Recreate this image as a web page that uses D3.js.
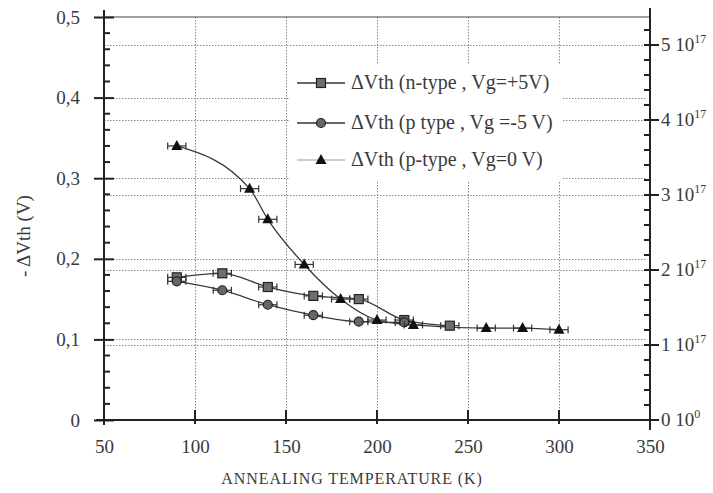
<!DOCTYPE html>
<html><head><meta charset="utf-8">
<script src="https://cdn.jsdelivr.net/npm/d3@7"></script>
<style>
body{margin:0;background:#fff;}
svg text{font-family:"Liberation Serif","Times New Roman","DejaVu Serif",serif !important;}
</style></head>
<body><svg id="c" width="713" height="493"></svg>
<script>
// ---- data ----
const seriesNames = ["\u0394Vth (n-type , Vg=+5V)", "\u0394Vth (p type , Vg =-5 V)", "\u0394Vth (p-type , Vg=0 V)"];
const tempN = [90, 115, 140, 165, 190, 215, 240];
const valN  = [0.177, 0.182, 0.165, 0.154, 0.150, 0.124, 0.117];
const tempPm = [90, 115, 140, 165, 190, 215];
const valPm  = [0.172, 0.161, 0.143, 0.130, 0.122, 0.121];
const tempP0 = [90, 130, 140, 160, 180, 200, 220, 260, 280, 300];
const valP0  = [0.340, 0.287, 0.249, 0.193, 0.150, 0.124, 0.118, 0.114, 0.114, 0.112];
const tempErr = 5; // K, horizontal error bar half-width
const xTicks = [50, 100, 150, 200, 250, 300, 350];
const yTicks = [0, 0.1, 0.2, 0.3, 0.4, 0.5];
const yRightTicks = [0, 1, 2, 3, 4, 5]; // x 10^17
const xLabel = "ANNEALING TEMPERATURE (K)";
const yLabel = "- \u0394Vth (V)";

// ---- scales ----
const svg = d3.select("#c");
const x = d3.scaleLinear().domain([50, 350]).range([104, 650]);
const y = d3.scaleLinear().domain([0, 0.5]).range([420, 17]);
const yR = d3.scaleLinear().domain([0, 5]).range([420, 45]);
const ink = "#222";
const txt = "#3a3a3a";

// ---- grid ----
const grid = svg.append("g").attr("stroke", "#8a8a8a").attr("stroke-width", 1).attr("stroke-dasharray", "1.5,1.5");
grid.selectAll(".gv").data(xTicks.slice(1, -1)).join("line")
  .attr("x1", d => x(d) + 0.5).attr("x2", d => x(d) + 0.5).attr("y1", y(0.5)).attr("y2", y(0));
grid.selectAll(".gh").data(yTicks.slice(1, -1)).join("line")
  .attr("x1", x(50)).attr("x2", x(350) - 4).attr("y1", d => Math.round(y(d)) + 0.5).attr("y2", d => Math.round(y(d)) + 0.5);
grid.selectAll(".gr").data(yRightTicks.slice(1)).join("line")
  .attr("x1", x(50)).attr("x2", x(350) - 6).attr("y1", d => Math.round(yR(d)) + 0.5).attr("y2", d => Math.round(yR(d)) + 0.5);

// ---- frame / axes ----
svg.append("line").attr("x1", x(50)).attr("x2", x(350)).attr("y1", y(0.5)).attr("y2", y(0.5))
  .attr("stroke", "#444").attr("stroke-width", 1.2);

const fmt = d => d === 0 ? "0" : d3.format(".1f")(d).replace(".", ",");
// left axis
const yMinor = d3.range(0, 0.501, 0.02);
const gl = svg.append("g").attr("transform", `translate(${x(50)},0)`);
gl.call(d3.axisLeft(y).tickValues(yTicks).tickFormat(fmt).tickSize(10).tickPadding(14));
gl.attr("font-family", null);
gl.call(g => g.select(".domain").remove());
gl.selectAll(".tick line").attr("stroke", ink).attr("stroke-width", 2).attr("x2", -10).attr("x1", 10);
gl.selectAll(".tick text").attr("font-size", 19).attr("fill", txt);
gl.append("line").attr("y1", 10).attr("y2", 425).attr("stroke", ink).attr("stroke-width", 2);
gl.selectAll(".ym").data(yMinor.filter(v => !yTicks.some(t => Math.abs(t - v) < 1e-6))).join("line")
  .attr("x1", 0).attr("x2", 6).attr("y1", d => y(d)).attr("y2", d => y(d)).attr("stroke", ink).attr("stroke-width", 2);

// bottom axis
const gb = svg.append("g").attr("transform", `translate(0,${y(0)})`);
gb.call(d3.axisBottom(x).tickValues(xTicks).tickSize(0).tickPadding(20));
gb.attr("font-family", null);
gb.call(g => g.select(".domain").remove());
gb.selectAll(".tick text").attr("font-size", 19).attr("fill", txt);
gb.append("line").attr("x1", x(50) - 8).attr("x2", x(350)).attr("stroke", ink).attr("stroke-width", 2);
gb.selectAll(".xm").data(xTicks).join("line")
  .attr("x1", d => x(d)).attr("x2", d => x(d)).attr("y1", -10).attr("y2", 4).attr("stroke", ink).attr("stroke-width", 2);

// right axis
const rMinor = d3.range(0, 5.21, 0.2).filter(v => !yRightTicks.some(t => Math.abs(t - v) < 1e-6));
const gr = svg.append("g").attr("transform", `translate(${x(350)},0)`);
gr.append("line").attr("y1", 8).attr("y2", 430).attr("stroke", ink).attr("stroke-width", 2);
gr.selectAll(".rm").data(rMinor).join("line")
  .attr("x1", -6).attr("x2", 0).attr("y1", d => yR(d)).attr("y2", d => yR(d)).attr("stroke", ink).attr("stroke-width", 2);
gr.selectAll(".rM").data(yRightTicks).join("line")
  .attr("x1", -6).attr("x2", 9).attr("y1", d => yR(d)).attr("y2", d => yR(d)).attr("stroke", ink).attr("stroke-width", 2);
const rt = gr.selectAll(".rt").data(yRightTicks).join("text")
  .attr("x", 11).attr("y", d => yR(d) + 6).attr("font-size", 19).attr("fill", txt);
rt.append("tspan").text(d => d + " 10");
rt.append("tspan").attr("font-size", 12).attr("dy", -8).text(d => d === 0 ? "0" : "17");

// axis titles
svg.append("text").attr("x", 352).attr("y", 484).attr("text-anchor", "middle")
  .attr("font-size", 16).attr("letter-spacing", 0.9).attr("fill", txt).text(xLabel);
svg.append("text").attr("transform", "translate(30,236) rotate(-90)").attr("text-anchor", "middle")
  .attr("font-size", 19).attr("fill", txt).text(yLabel);

// ---- data marks ----
const series = [
  {t: tempN, v: valN, shape: "square"},
  {t: tempPm, v: valPm, shape: "circle"},
  {t: tempP0, v: valP0, shape: "triangle"}
];
const line = d3.line().x(d => x(d[0])).y(d => y(d[1])).curve(d3.curveMonotoneX);
const marks = svg.append("g");
series.forEach(s => {
  const pts = s.t.map((t, i) => [t, s.v[i]]);
  marks.append("path").datum(pts).attr("d", line).attr("fill", "none")
    .attr("stroke", "#3a3a3a").attr("stroke-width", 1.3);
});
function drawMarker(g, shape, cx, cy) {
  if (shape === "square") {
    g.append("rect").attr("x", cx - 4.5).attr("y", cy - 4.5).attr("width", 9).attr("height", 9)
      .attr("fill", "#6e6e6e").attr("stroke", "#222").attr("stroke-width", 1.2);
  } else if (shape === "circle") {
    g.append("circle").attr("cx", cx).attr("cy", cy).attr("r", 4.5)
      .attr("fill", "#666").attr("stroke", "#222").attr("stroke-width", 1.2);
  } else {
    g.append("path").attr("d", `M${cx},${cy - 6}L${cx + 5.5},${cy + 4}L${cx - 5.5},${cy + 4}Z`)
      .attr("fill", "#111");
  }
}
series.forEach(s => {
  s.t.forEach((t, i) => {
    const cx = x(t), cy = y(s.v[i]);
    const x0 = x(t - tempErr), x1 = x(t + tempErr);
    const eb = marks.append("g").attr("stroke", "#333").attr("stroke-width", 1.2);
    eb.append("line").attr("x1", x0).attr("x2", x1).attr("y1", cy).attr("y2", cy);
    eb.append("line").attr("x1", x0).attr("x2", x0).attr("y1", cy - 3.5).attr("y2", cy + 3.5);
    eb.append("line").attr("x1", x1).attr("x2", x1).attr("y1", cy - 3.5).attr("y2", cy + 3.5);
    drawMarker(marks, s.shape, cx, cy);
  });
});

// ---- legend ----
const lg = svg.append("g");
lg.append("rect").attr("x", 290).attr("y", 65).attr("width", 272).attr("height", 116).attr("fill", "#fff");
const legRows = [83, 123, 160];
const legStroke = ["#333", "#333", "#9a9a9a"];
series.forEach((s, i) => {
  const ly = legRows[i];
  lg.append("line").attr("x1", 297).attr("x2", 345).attr("y1", ly).attr("y2", ly)
    .attr("stroke", legStroke[i]).attr("stroke-width", i === 2 ? 1 : 1.6);
  drawMarker(lg, s.shape, 321, ly);
  lg.append("text").attr("x", 351).attr("y", ly + 6).attr("font-size", 20).attr("fill", txt).text(seriesNames[i]);
});
</script></body></html>
